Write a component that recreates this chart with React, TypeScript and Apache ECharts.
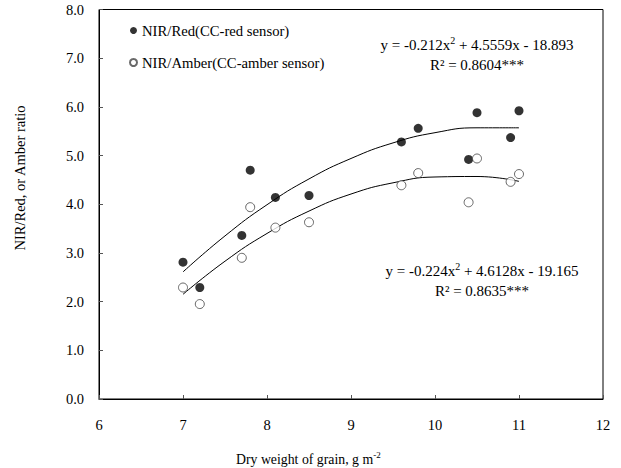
import React, { useEffect, useRef } from "react";
import * as echarts from "echarts";

const redX = [7.0, 7.2, 7.7, 7.8, 8.1, 8.5, 9.6, 9.8, 10.4, 10.5, 10.9, 11.0];
const redY = [2.81, 2.29, 3.36, 4.70, 4.14, 4.18, 5.28, 5.56, 4.92, 5.88, 5.37, 5.92];
const amberX = [7.0, 7.2, 7.7, 7.8, 8.1, 8.5, 9.6, 9.8, 10.4, 10.5, 10.9, 11.0];
const amberY = [2.29, 1.95, 2.90, 3.94, 3.52, 3.63, 4.39, 4.64, 4.04, 4.94, 4.46, 4.62];

// Fitted-curve values as drawn in the reference (at x = 7, 7.5, ..., 11)
const fitX = [7, 7.5, 8, 8.5, 9, 9.5, 10, 10.5, 11];
const redFitY = [2.61, 3.35, 3.99, 4.52, 4.94, 5.26, 5.47, 5.57, 5.57];
const amberFitY = [2.15, 2.83, 3.40, 3.86, 4.21, 4.44, 4.56, 4.57, 4.47];

const xTicks = [6, 7, 8, 9, 10, 11, 12];
const yTicks = [0, 1, 2, 3, 4, 5, 6, 7, 8];

const legendNames = ["NIR/Red(CC-red sensor)", "NIR/Amber(CC-amber sensor)"];
const redEq = "y = -0.212x";
const redEq2 = " + 4.5559x - 18.893";
const redR2 = "R² = 0.8604***";
const amberEq = "y = -0.224x";
const amberEq2 = " + 4.6128x - 19.165";
const amberR2 = "R² = 0.8635***";
const xName = "Dry weight of grain, g m";
const yName = "NIR/Red, or Amber ratio";

const FONT = "Liberation Serif";

export default function App() {
  const ref = useRef<HTMLDivElement>(null);
  useEffect(() => {
    if (!ref.current) return;
    const chart = echarts.init(ref.current, null, { renderer: "svg" });
    const pair = (xs: number[], ys: number[]) => xs.map((x, i) => [x, ys[i]]);
    const eqText = (a: string, b: string, r: string) => ({
      text: `{t|${a}}{s|2}{t|${b}}\n{t|${r}}`,
      rich: {
        t: { fontFamily: FONT, fontSize: 15, fill: "#000", lineHeight: 20 },
        s: { fontFamily: FONT, fontSize: 10, fill: "#000", verticalAlign: "top", lineHeight: 20, padding: [0, 0, 4, 0] },
      },
      align: "center",
      fill: "#000",
    });
    chart.setOption({
      animation: false,
      backgroundColor: "#fff",
      textStyle: { fontFamily: FONT },
      grid: {
        left: 99,
        right: 18,
        top: 9.5,
        bottom: 69,
        show: true,
        borderColor: "#000",
        borderWidth: 1,
        containLabel: false,
      },
      legend: {
        orient: "vertical",
        left: 124,
        top: 17,
        itemWidth: 7,
        itemHeight: 7,
        itemGap: 15,
        data: legendNames,
        textStyle: { fontFamily: FONT, fontSize: 14.7, color: "#000", lineHeight: 17 },
      },
      xAxis: {
        type: "value",
        min: xTicks[0],
        max: xTicks[xTicks.length - 1],
        interval: 1,
        axisLine: { lineStyle: { color: "#000", width: 1 } },
        axisTick: { inside: true, length: 4, lineStyle: { color: "#555" } },
        axisLabel: { fontFamily: FONT, fontSize: 14.5, color: "#000", margin: 18 },
        splitLine: { show: false },
      },
      yAxis: {
        type: "value",
        min: yTicks[0],
        max: yTicks[yTicks.length - 1],
        interval: 1,
        axisLine: { show: true, lineStyle: { color: "#000", width: 1 } },
        axisTick: { show: true, inside: true, length: 4, lineStyle: { color: "#555" } },
        axisLabel: {
          fontFamily: FONT,
          fontSize: 14.5,
          color: "#000",
          margin: 15,
          formatter: (v: number) => v.toFixed(1),
        },
        splitLine: { show: false },
      },
      series: [
        {
          name: legendNames[0],
          type: "scatter",
          data: pair(redX, redY),
          symbol: "circle",
          symbolSize: 9,
          itemStyle: { color: "#000" },
          z: 3,
        },
        {
          name: legendNames[1],
          type: "scatter",
          data: pair(amberX, amberY),
          symbol: "circle",
          symbolSize: 9,
          itemStyle: { color: "#fff", borderColor: "#444", borderWidth: 1 },
          z: 3,
        },
        {
          name: "redFit",
          type: "line",
          data: pair(fitX, redFitY),
          smooth: true,
          showSymbol: false,
          lineStyle: { color: "#000", width: 1 },
          z: 2,
        },
        {
          name: "amberFit",
          type: "line",
          data: pair(fitX, amberFitY),
          smooth: true,
          showSymbol: false,
          lineStyle: { color: "#000", width: 1 },
          z: 2,
        },
      ],
      graphic: [
        {
          type: "text",
          x: 477,
          y: 35,
          style: eqText(redEq, redEq2, redR2),
        },
        {
          type: "text",
          x: 482,
          y: 261,
          style: eqText(amberEq, amberEq2, amberR2),
        },
        {
          type: "text",
          x: 236,
          y: 450,
          style: {
            text: `{t|${xName}}{s|-2}`,
            rich: {
              t: { fontFamily: FONT, fontSize: 13.8, fill: "#000", lineHeight: 18 },
              s: { fontFamily: FONT, fontSize: 9, fill: "#000", verticalAlign: "top", lineHeight: 18, padding: [0, 0, 5, 0] },
            },
          },
        },
        {
          type: "text",
          x: 20,
          y: 178,
          rotation: Math.PI / 2,
          style: {
            text: yName,
            fontFamily: FONT,
            fontSize: 14.5,
            fill: "#000",
            align: "center",
            verticalAlign: "middle",
          },
        },
      ],
    });
    return () => chart.dispose();
  }, []);
  return (
    <div
      ref={ref}
      style={{ position: "absolute", left: 0, top: 0, width: 621, height: 468 }}
    />
  );
}
